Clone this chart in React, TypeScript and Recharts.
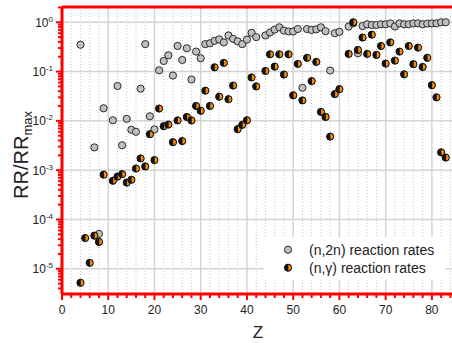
import React from 'react';
import { ScatterChart, Scatter, XAxis, YAxis, CartesianGrid, Legend } from 'recharts';

// (n,2n) reaction rates
const n2nZ = [4, 7, 8, 9, 11, 12, 13, 14, 15, 16, 17, 18, 19, 20, 21, 22, 23, 24, 25, 26, 27, 28, 29, 30,
  31, 32, 33, 34, 35, 36, 37, 38, 39, 40, 41, 42, 44, 45, 46, 47, 48, 49, 50, 51, 52, 53, 54, 55, 56, 57, 58,
  59, 60, 62, 63, 64, 65, 66, 67, 68, 69, 70, 71, 72, 73, 74, 75, 76, 77, 78, 79, 80, 81, 82, 83];
const n2nRR = [0.35, 0.0029, 5.1e-5, 0.018, 0.0103, 0.051, 0.0032, 0.011, 0.0066, 0.006, 0.045, 0.36, 0.0124,
  0.0067, 0.106, 0.164, 0.214, 0.083, 0.331, 0.172, 0.297, 0.069, 0.254, 0.186,
  0.36, 0.375, 0.42, 0.45, 0.39, 0.54, 0.46, 0.41, 0.36, 0.445, 0.61, 0.5, 0.54, 0.62, 0.71, 0.79, 0.68, 0.65,
  0.65, 0.73, 0.047, 0.73, 0.7, 0.72, 0.79, 0.66, 0.105,
  0.6, 0.64, 0.82, 0.95, 0.235, 0.84, 0.91, 0.88, 0.88, 0.91, 0.91, 0.95, 0.82, 0.95, 0.91, 0.91, 0.95, 0.95,
  0.91, 0.94, 0.95, 0.95, 1.0, 1.0];

// (n,gamma) reaction rates
const ngZ = [4, 5, 6, 7, 8, 9, 11, 12, 13, 14, 15, 16, 17, 18, 19, 20, 21, 22, 23, 24, 25, 26, 27, 28, 29, 30,
  31, 32, 33, 34, 35, 36, 37, 38, 39, 40, 41, 42, 44, 45, 46, 47, 48, 49, 50, 51, 52, 53, 54, 55, 56, 57, 58,
  59, 60, 62, 63, 64, 65, 66, 67, 68, 69, 70, 71, 72, 73, 74, 75, 76, 77, 78, 79, 80, 81, 82, 83];
const ngRR = [5.2e-6, 4.2e-5, 1.32e-5, 4.7e-5, 3.5e-5, 8.1e-4, 6.1e-4, 7.4e-4, 8.3e-4, 5.6e-4, 6.4e-4, 1.08e-3,
  1.73e-3, 1.19e-3, 5.37e-3, 1.6e-3, 0.0178, 7.8e-3, 8.4e-3, 3.7e-3, 0.0102, 3.9e-3, 0.012, 0.0102, 0.0201, 0.016,
  0.041, 0.0201, 0.122, 0.031, 0.15, 0.0275, 0.052, 6.8e-3, 8.3e-3, 0.0103, 0.076, 0.05, 0.103, 0.224, 0.126,
  0.224, 0.087, 0.224, 0.033, 0.143, 0.026, 0.19, 0.064, 0.157, 0.0152, 0.012, 4.8e-3,
  0.035, 0.044, 0.228, 1.0, 0.275, 0.49, 0.228, 0.56, 0.218, 0.33, 0.145, 0.39, 0.167, 0.254, 0.088, 0.33,
  0.141, 0.306, 0.124, 0.19, 0.053, 0.03, 2.3e-3, 1.8e-3];

const xMajorTicks = [0, 10, 20, 30, 40, 50, 60, 70, 80];
const xAllTicks = [0, 2, 4, 6, 8, 10, 12, 14, 16, 18, 20, 22, 24, 26, 28, 30, 32, 34, 36, 38, 40, 42, 44, 46, 48,
  50, 52, 54, 56, 58, 60, 62, 64, 66, 68, 70, 72, 74, 76, 78, 80, 82, 84];
const xMinorTicks = xAllTicks.filter((v) => v % 10 !== 0);
const yExponents = [-5, -4, -3, -2, -1, 0];
const yMajorTicks = yExponents.map((e) => Math.pow(10, e));
const yDomain: [number, number] = [3.08e-6, 2.04];
const yAllTicks: number[] = [];
for (let e = -6; e <= 0; e++) {
  for (let m = 1; m <= 9; m++) {
    const v = m * Math.pow(10, e);
    if (v >= yDomain[0] && v <= yDomain[1]) yAllTicks.push(v);
  }
}

const seriesNames = ['(n,2n) reaction rates', '(n,\u03b3) reaction rates'];

const n2nData = n2nZ.map((z, i) => ({ z, rr: n2nRR[i] }));
const ngData = ngZ.map((z, i) => ({ z, rr: ngRR[i] }));

const FONT = 'Arial, "Liberation Sans", sans-serif';
const ORANGE = '#ff8a00';
const INK = 'red';
const R = 3.6;

const GreyDot = (p: any) => (
  <circle cx={p.cx} cy={p.cy} r={R} fill="#c0c0c0" stroke="#2a2a2a" strokeWidth={1} />
);
const HalfDot = (p: any) => {
  const { cx, cy } = p;
  return (
    <g>
      <circle cx={cx} cy={cy} r={R} fill="#111" />
      <path d={`M${cx + 0.3},${cy - R + 0.6} A${R - 0.6},${R - 0.6} 0 0 1 ${cx + 0.3},${cy + R - 0.6} Z`} fill={ORANGE} />
      <circle cx={cx} cy={cy} r={R} fill="none" stroke="#111" strokeWidth={1} />
    </g>
  );
};

const YTick = (p: any) => {
  const { x, y, payload } = p;
  const v = payload.value;
  const e = Math.round(Math.log10(v));
  const major = Math.abs(v - Math.pow(10, e)) / v < 1e-6;
  return (
    <g>
      <path d={`M${x},${y}H${x - (major ? 6 : 4)}`} stroke={INK} strokeWidth={2} />
      {major && (
        <text x={x - 9} y={y + 4.5} textAnchor="end" fontSize={12} fill="#222" fontFamily={FONT}>
          <tspan>10</tspan>
          <tspan fontSize={8} dy={-5}>{e}</tspan>
        </text>
      )}
      {payload.value === yMajorTicks[0] && (
        <text transform={`rotate(-90, 28, 155)`} x={28} y={155} textAnchor="middle" fontSize={20} fill="#222" fontFamily={FONT}>
          RR/RR<tspan fontSize={13} dy={4}>max</tspan>
        </text>
      )}
    </g>
  );
};

const XTick = (p: any) => {
  const { x, y, payload } = p;
  const v = payload.value;
  const major = v % 10 === 0;
  return (
    <g>
      <path d={`M${x},${y}V${y + (major ? 6 : 4)}`} stroke={INK} strokeWidth={2} />
      {major && (
        <text x={x} y={y + 19.5} textAnchor="middle" fontSize={12} fill="#222" fontFamily={FONT}>
          {v}
        </text>
      )}
      {v === 40 && (
        <text x={x + 11} y={y + 44} textAnchor="middle" fontSize={17} fill="#222" fontFamily={FONT}>
          Z
        </text>
      )}
    </g>
  );
};

const LegendContent = () => (
  <svg width={181} height={43} style={{ display: 'block' }}>
    <GreyDot cx={24} cy={12.7} />
    <HalfDot cx={24} cy={30.7} />
    <text x={45} y={17.7} fontSize={14} fill="#222" fontFamily={FONT}>{seriesNames[0]}</text>
    <text x={45} y={35.7} fontSize={14} fill="#222" fontFamily={FONT}>{seriesNames[1]}</text>
  </svg>
);

export default function App() {
  return (
    <div style={{ position: 'absolute', left: 0, top: 0, width: 452, height: 343, overflow: 'hidden', background: '#fff' }}>
      <ScatterChart width={456} height={343} margin={{ top: 6, right: 1, bottom: 0, left: 0 }}>
        <CartesianGrid horizontal={false} verticalValues={xMinorTicks} stroke="#c4c4c4" strokeDasharray="1 2" />
        <CartesianGrid horizontalValues={yMajorTicks} verticalValues={xMajorTicks} stroke="#d4d4d4" strokeWidth={1.5} />
        <XAxis dataKey="z" type="number" domain={[0, 85]} allowDataOverflow ticks={xAllTicks} interval={0} tickSize={0} tickMargin={0} tickLine={false} tick={<XTick />} height={49} axisLine={{ stroke: INK, strokeWidth: 3 }} />
        <XAxis xAxisId="top" orientation="top" type="number" domain={[0, 85]} height={1} tick={false} tickLine={false} axisLine={{ stroke: INK, strokeWidth: 3 }} />
        <YAxis dataKey="rr" type="number" scale="log" domain={yDomain} allowDataOverflow ticks={yAllTicks} interval={0} tickSize={0} tickMargin={0} tickLine={false} tick={<YTick />} width={62} axisLine={{ stroke: INK, strokeWidth: 3 }} />
        <Legend layout="vertical" align="center" verticalAlign="middle" content={<LegendContent />} wrapperStyle={{ position: 'absolute', left: 264, top: 237, width: 181, height: 43, background: '#fff' }} />
        <Scatter name={seriesNames[0]} data={n2nData} shape={<GreyDot />} isAnimationActive={false} />
        <Scatter name={seriesNames[1]} data={ngData} shape={<HalfDot />} isAnimationActive={false} />
      </ScatterChart>
    </div>
  );
}
